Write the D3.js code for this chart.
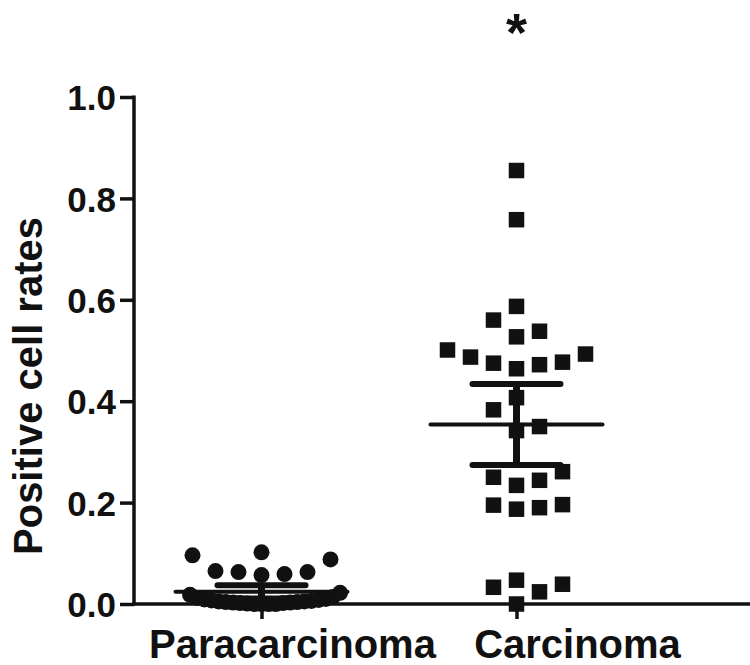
<!DOCTYPE html>
<html>
<head>
<meta charset="utf-8">
<script src="https://cdn.jsdelivr.net/npm/d3@7/dist/d3.min.js"></script>
<style>
  html, body { margin: 0; padding: 0; background: #ffffff; }
  svg { display: block; }
  text { font-family: "Liberation Sans", Arial, sans-serif; font-weight: bold; fill: #111; }
</style>
</head>
<body>
<svg id="chart" width="750" height="665"></svg>
<script>
// ---------------- data ----------------
const categories = ["Paracarcinoma", "Carcinoma"];

const paracarcinomaValues = [
  0.102, 0.096, 0.088, 0.065, 0.063, 0.063, 0.059, 0.057,
  0.022, 0.018, 0.014, 0.012, 0.010, 0.009, 0.008, 0.007,
  0.006, 0.005, 0.005, 0.004, 0.004, 0.003, 0.003, 0.002,
  0.002, 0.001, 0.000, 0.000, 0.000, 0.000
];

const carcinomaValues = [
  0.855, 0.758, 0.587, 0.560, 0.538, 0.527,
  0.501, 0.487, 0.475, 0.464, 0.472, 0.477, 0.493,
  0.407, 0.383, 0.350, 0.342,
  0.261, 0.244, 0.234, 0.250, 0.195, 0.187, 0.190, 0.196,
  0.033, 0.047, 0.024, 0.039, 0.000
];

const meanValues = [0.024, 0.354];
const ciLower    = [0.011, 0.274];
const ciUpper    = [0.037, 0.434];

const yTicks = [0.0, 0.2, 0.4, 0.6, 0.8, 1.0];
const yTitle = "Positive cell rates";
const significanceMarks = ["", "*"];

// ---------------- layout ----------------
const svg = d3.select("#chart");
const W = 750, H = 665;
svg.append("rect").attr("width", W).attr("height", H).attr("fill", "#fff");

const axisX = 134, axisY = 604, topY = 97;
const ink = "#111";

const y = d3.scaleLinear().domain([0, 1]).range([axisY, topY]);
const x = d3.scalePoint().domain(categories).range([axisX, 644]).padding(0.5);

// beeswarm-like row layout (GraphPad style)
function swarm(values, rowPx, step, maxHalf) {
  const sorted = values.map(v => v).sort((a, b) => a - b);
  const rows = [];
  let cur = null;
  sorted.forEach(v => {
    if (!cur || (y(cur.start) - y(v)) > rowPx) { cur = { start: v, pts: [] }; rows.push(cur); }
    cur.pts.push(v);
  });
  const out = [];
  rows.forEach(r => {
    const n = r.pts.length;
    const sp = n > 1 ? Math.min(step, 2 * maxHalf / (n - 1)) : step;
    r.pts.forEach((v, k) => {
      const slot = k === 0 ? 0 : (k % 2 ? (k + 1) / 2 : -k / 2);
      out.push({ value: v, dx: slot * sp });
    });
  });
  return out;
}

const groups = [paracarcinomaValues, carcinomaValues];

// points
groups.forEach((vals, gi) => {
  const cx = x(categories[gi]);
  const pts = swarm(vals, 22, 23, 75);
  const g = svg.append("g");
  if (gi === 0) {
    g.selectAll("circle").data(pts).join("circle")
      .attr("cx", d => cx + d.dx)
      .attr("cy", d => y(d.value))
      .attr("r", 8)
      .attr("fill", ink);
  } else {
    const s = 15.5;
    g.selectAll("rect").data(pts).join("rect")
      .attr("x", d => cx + d.dx - s / 2)
      .attr("y", d => y(d.value) - s / 2)
      .attr("width", s).attr("height", s)
      .attr("fill", ink);
  }
});

// mean + CI bars
categories.forEach((c, i) => {
  const cx = x(c);
  const g = svg.append("g").attr("stroke", ink).attr("stroke-linecap", "round");
  g.append("line").attr("x1", cx).attr("x2", cx)
    .attr("y1", y(ciLower[i])).attr("y2", y(ciUpper[i])).attr("stroke-width", 7).attr("stroke-linecap", "butt");
  [ciLower[i], ciUpper[i]].forEach(v => {
    g.append("line").attr("x1", cx - 44).attr("x2", cx + 44)
      .attr("y1", y(v)).attr("y2", y(v)).attr("stroke-width", 6);
  });
  g.append("line").attr("x1", cx - 86).attr("x2", cx + 86)
    .attr("y1", y(meanValues[i])).attr("y2", y(meanValues[i])).attr("stroke-width", 4);
});

// y axis
const yAxis = d3.axisLeft(y).tickValues(yTicks).tickFormat(d3.format(".1f"))
  .tickSize(14).tickSizeOuter(0).tickPadding(4);
const gy = svg.append("g").attr("transform", `translate(${axisX},0)`).call(yAxis);
gy.select(".domain").remove();
gy.selectAll(".tick line").attr("stroke", ink).attr("stroke-width", 3.5);
gy.selectAll(".tick text").attr("font-size", 35).attr("font-weight", "bold")
  .attr("font-family", '"Liberation Sans", Arial, sans-serif').attr("fill", ink)
  .attr("dy", "0.36em");
svg.append("line").attr("x1", axisX).attr("x2", axisX)
  .attr("y1", topY - 1.5).attr("y2", axisY + 1.5)
  .attr("stroke", ink).attr("stroke-width", 3.5);

// x axis
const xAxis = d3.axisBottom(x).tickSize(15).tickSizeOuter(0).tickFormat("");
const gx = svg.append("g").attr("transform", `translate(0,${axisY})`).call(xAxis);
gx.select(".domain").remove();
gx.selectAll(".tick line").attr("stroke", ink).attr("stroke-width", 3.5);
svg.append("line").attr("x1", axisX).attr("x2", W)
  .attr("y1", axisY).attr("y2", axisY)
  .attr("stroke", ink).attr("stroke-width", 3.5);

// category labels (slightly offset right as in the original)
const labelShift = [31, 61];
svg.append("g").selectAll("text").data(categories).join("text")
  .attr("x", (d, i) => x(d) + labelShift[i])
  .attr("y", 658)
  .attr("text-anchor", "middle")
  .attr("font-size", 40)
  .text(d => d);

// y title
svg.append("text")
  .attr("transform", `translate(42,386) rotate(-90)`)
  .attr("text-anchor", "middle")
  .attr("font-size", 40)
  .text(yTitle);

// significance marks
svg.append("g").selectAll("text").data(significanceMarks).join("text")
  .attr("x", (d, i) => x(categories[i]))
  .attr("y", 51)
  .attr("text-anchor", "middle")
  .attr("font-size", 54)
  .text(d => d);
</script>
</body>
</html>
